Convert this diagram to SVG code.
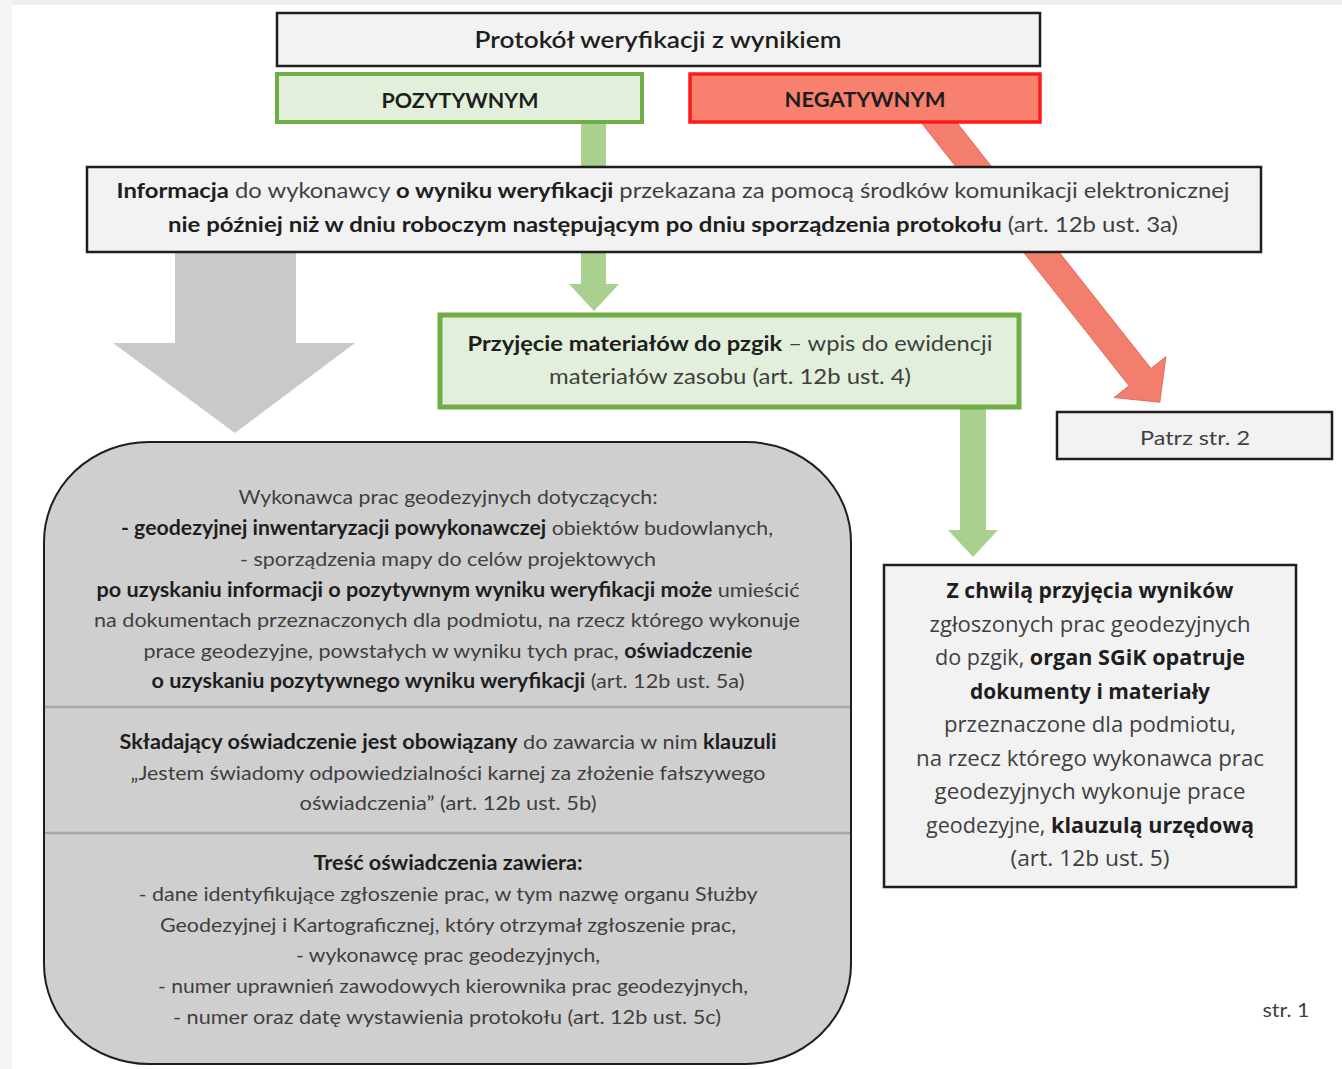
<svg xmlns="http://www.w3.org/2000/svg" width="1342" height="1069" viewBox="0 0 1342 1069">
<style>
.c{font-family:Lato,"Open Sans","Liberation Sans",sans-serif;text-anchor:middle;fill:#3f3f3f}
.o{font-family:"Open Sans","Noto Sans","Liberation Sans",sans-serif;text-anchor:middle;fill:#3f3f3f}
.b{font-weight:bold;fill:#1e1e1e}
.box{fill:#f2f2f2;stroke:#1e1e1e;stroke-width:2.5}
.gbox{fill:#e2efda;stroke:#70ad47}
.garrow{fill:#a9d08e}
</style>
<rect x="0" y="0" width="1342" height="1069" fill="#ffffff"/>
<rect x="0" y="0" width="1342" height="5" fill="#eeeeee"/>
<rect x="0" y="0" width="12" height="1069" fill="#f4f4f4"/>

<g id="connectors">
  <polygon class="garrow" points="581,123 606,123 606,284 619,284 594,311 569,284 581,284"/>
  <polygon class="garrow" points="960,408 986,408 986,530 998,530 973,557 948,530 960,530"/>
  <polygon fill="#c9c9c9" points="175,252 296,252 296,343 355,343 235,433 113,343 175,343"/>
  <g transform="translate(933,115) rotate(-38.3)">
    <polygon fill="#f47e6e" stroke="#e0604f" stroke-width="0.8" points="-14,0 14,0 14,334 33,334 0,366 -33,334 -14,334"/>
  </g>
</g>

<g id="title">
  <rect class="box" x="277" y="13" width="763" height="53"/>
  <text class="c" x="658" y="48" font-size="22" fill="#1e1e1e" style="fill:#1e1e1e;font-weight:600" textLength="367" lengthAdjust="spacingAndGlyphs">Protokół weryfikacji z wynikiem</text>
</g>

<g id="pozytywnym">
  <rect class="gbox" x="277" y="74" width="365" height="48" stroke-width="4"/>
  <text class="c b" x="460" y="108" font-size="20" textLength="157" lengthAdjust="spacingAndGlyphs">POZYTYWNYM</text>
</g>

<g id="negatywnym">
  <rect x="690" y="74" width="350" height="48" fill="#f8806f" stroke="#ff1a1a" stroke-width="3.5"/>
  <text class="c b" x="865" y="107" font-size="20" textLength="161" lengthAdjust="spacingAndGlyphs">NEGATYWNYM</text>
</g>

<g id="informacja">
  <rect class="box" x="87" y="167" width="1174" height="85"/>
  <text class="c" x="673" y="198" font-size="21" textLength="1113" lengthAdjust="spacingAndGlyphs"><tspan class="b">Informacja</tspan> do wykonawcy <tspan class="b">o wyniku weryfikacji</tspan> przekazana za pomocą środków komunikacji elektronicznej</text>
  <text class="c" x="673" y="232" font-size="21" textLength="1010" lengthAdjust="spacingAndGlyphs"><tspan class="b">nie później niż w dniu roboczym następującym po dniu sporządzenia protokołu</tspan> (art. 12b ust. 3a)</text>
</g>

<g id="przyjecie">
  <rect class="gbox" x="440" y="315" width="579" height="92" stroke-width="5"/>
  <text class="c" x="730" y="351" font-size="21" textLength="525" lengthAdjust="spacingAndGlyphs"><tspan class="b">Przyjęcie materiałów do pzgik</tspan> – wpis do ewidencji</text>
  <text class="c" x="730" y="384" font-size="21" textLength="362" lengthAdjust="spacingAndGlyphs">materiałów zasobu (art. 12b ust. 4)</text>
</g>

<g id="patrz">
  <rect class="box" x="1057" y="412" width="275" height="47"/>
  <text class="c" x="1195" y="445" font-size="20" textLength="110" lengthAdjust="spacingAndGlyphs">Patrz str. 2</text>
</g>

<g id="oswiadczenie">
  <rect x="44" y="442" width="807" height="622" rx="105" ry="100" fill="#d0cfcf" stroke="#1e1e1e" stroke-width="2"/>
  <line x1="45" y1="707" x2="850" y2="707" stroke="#a6a6a6" stroke-width="2.5"/>
  <line x1="45" y1="833" x2="850" y2="833" stroke="#a6a6a6" stroke-width="2.5"/>
  <text class="c" x="448" y="504" font-size="20" textLength="419" lengthAdjust="spacingAndGlyphs">Wykonawca prac geodezyjnych dotyczących:</text>
  <text class="c" x="447" y="535" font-size="20" textLength="652" lengthAdjust="spacingAndGlyphs"><tspan class="b">- geodezyjnej inwentaryzacji powykonawczej</tspan> obiektów budowlanych,</text>
  <text class="c" x="448" y="566" font-size="20" textLength="416" lengthAdjust="spacingAndGlyphs">- sporządzenia mapy do celów projektowych</text>
  <text class="c" x="448" y="597" font-size="20" textLength="703" lengthAdjust="spacingAndGlyphs"><tspan class="b">po uzyskaniu informacji o pozytywnym wyniku weryfikacji może</tspan> umieścić</text>
  <text class="c" x="447" y="627" font-size="20" textLength="706" lengthAdjust="spacingAndGlyphs">na dokumentach przeznaczonych dla podmiotu, na rzecz którego wykonuje</text>
  <text class="c" x="448" y="658" font-size="20" textLength="609" lengthAdjust="spacingAndGlyphs">prace geodezyjne, powstałych w wyniku tych prac, <tspan class="b">oświadczenie</tspan></text>
  <text class="c" x="448" y="688" font-size="20" textLength="593" lengthAdjust="spacingAndGlyphs"><tspan class="b">o uzyskaniu pozytywnego wyniku weryfikacji</tspan> (art. 12b ust. 5a)</text>
  <text class="c" x="448" y="749" font-size="20" textLength="657" lengthAdjust="spacingAndGlyphs"><tspan class="b">Składający oświadczenie jest obowiązany</tspan> do zawarcia w nim <tspan class="b">klauzuli</tspan></text>
  <text class="c" x="448" y="780" font-size="20" textLength="635" lengthAdjust="spacingAndGlyphs">„Jestem świadomy odpowiedzialności karnej za złożenie fałszywego</text>
  <text class="c" x="448" y="810" font-size="20" textLength="297" lengthAdjust="spacingAndGlyphs">oświadczenia” (art. 12b ust. 5b)</text>
  <text class="c b" x="448" y="870" font-size="20" textLength="269" lengthAdjust="spacingAndGlyphs">Treść oświadczenia zawiera:</text>
  <text class="c" x="448" y="901" font-size="20" textLength="619" lengthAdjust="spacingAndGlyphs">- dane identyfikujące zgłoszenie prac, w tym nazwę organu Służby</text>
  <text class="c" x="448" y="932" font-size="20" textLength="576" lengthAdjust="spacingAndGlyphs">Geodezyjnej i Kartograficznej, który otrzymał zgłoszenie prac,</text>
  <text class="c" x="448" y="962" font-size="20" textLength="304" lengthAdjust="spacingAndGlyphs">- wykonawcę prac geodezyjnych,</text>
  <text class="c" x="453" y="993" font-size="20" textLength="590" lengthAdjust="spacingAndGlyphs">- numer uprawnień zawodowych kierownika prac geodezyjnych,</text>
  <text class="c" x="447" y="1024" font-size="20" textLength="548" lengthAdjust="spacingAndGlyphs">- numer oraz datę wystawienia protokołu (art. 12b ust. 5c)</text>
</g>

<g id="klauzula">
  <rect class="box" x="884" y="565" width="412" height="322"/>
  <text class="o b" x="1090" y="598" font-size="21" textLength="287" lengthAdjust="spacingAndGlyphs">Z chwilą przyjęcia wyników</text>
  <text class="o" x="1090" y="632" font-size="21" textLength="321" lengthAdjust="spacingAndGlyphs">zgłoszonych prac geodezyjnych</text>
  <text class="o" x="1090" y="665" font-size="21" textLength="310" lengthAdjust="spacingAndGlyphs">do pzgik, <tspan class="b">organ SGiK opatruje</tspan></text>
  <text class="o b" x="1090" y="699" font-size="21" textLength="240" lengthAdjust="spacingAndGlyphs">dokumenty i materiały</text>
  <text class="o" x="1090" y="732" font-size="21" textLength="292" lengthAdjust="spacingAndGlyphs">przeznaczone dla podmiotu,</text>
  <text class="o" x="1090" y="766" font-size="21" textLength="348" lengthAdjust="spacingAndGlyphs">na rzecz którego wykonawca prac</text>
  <text class="o" x="1090" y="799" font-size="21" textLength="311" lengthAdjust="spacingAndGlyphs">geodezyjnych wykonuje prace</text>
  <text class="o" x="1090" y="833" font-size="21" textLength="328" lengthAdjust="spacingAndGlyphs">geodezyjne, <tspan class="b">klauzulą urzędową</tspan></text>
  <text class="o" x="1090" y="866" font-size="21" textLength="159" lengthAdjust="spacingAndGlyphs">(art. 12b ust. 5)</text>
</g>

<g id="strona">
  <text class="c" x="1286" y="1017" font-size="20" textLength="47" lengthAdjust="spacingAndGlyphs">str. 1</text>
</g>
</svg>
